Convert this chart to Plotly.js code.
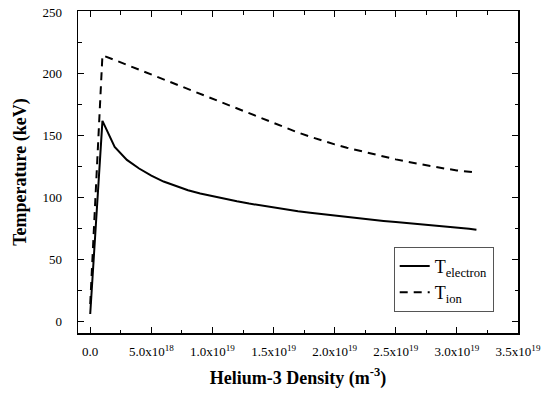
<!DOCTYPE html>
<html>
<head>
<meta charset="utf-8">
<script src="https://cdn.plot.ly/plotly-3.0.1.min.js"></script>
<style>html,body{margin:0;padding:0;background:#fff;}#chart{width:541px;height:393px;}</style>
</head>
<body>
<div id="chart"></div>
<script>
// Helium-3 density (m^-3)
const densityElectron = [0, 1e18, 2e18, 3e18, 4e18, 5e18, 6e18, 7e18, 8e18, 9e18, 1e19,
  1.1e19, 1.2e19, 1.3e19, 1.4e19, 1.5e19, 1.6e19, 1.7e19, 1.8e19, 1.9e19, 2e19,
  2.1e19, 2.2e19, 2.3e19, 2.4e19, 2.5e19, 2.6e19, 2.7e19, 2.8e19, 2.9e19, 3e19, 3.1e19, 3.16e19];
const tElectron = [6, 162, 141, 130.5, 123.5, 117.8, 113, 109.2, 106, 103.3, 101,
  98.9, 97, 95.2, 93.5, 91.9, 90.4, 89, 87.7, 86.5, 85.3,
  84.2, 83.1, 82.1, 81.1, 80.2, 79.4, 78.5, 77.6, 76.7, 75.7, 74.8, 74];
const densityIon = [0, 1e18, 2e18, 3e18, 4e18, 5e18, 6e18, 7e18, 8e18, 9e18, 1e19,
  1.1e19, 1.2e19, 1.3e19, 1.4e19, 1.5e19, 1.6e19, 1.7e19, 1.8e19, 1.9e19, 2e19,
  2.1e19, 2.2e19, 2.3e19, 2.4e19, 2.5e19, 2.6e19, 2.7e19, 2.8e19, 2.9e19, 3e19, 3.1e19, 3.16e19];
const tIon = [14, 215, 211.2, 207.3, 203.4, 199.5, 195.6, 191.7, 187.9, 184.1, 180.2,
  176.3, 172.3, 168.2, 164.1, 160.1, 156.2, 152.6, 149.2, 146, 143,
  140.3, 137.8, 135.4, 133.1, 130.9, 128.9, 127, 125.2, 123.5, 122, 120.8, 120.2];

const xTickVals = [0, 5e18, 1e19, 1.5e19, 2e19, 2.5e19, 3e19, 3.5e19];
const xTickText = ['0.0', '5.0x10<sup>18</sup>', '1.0x10<sup>19</sup>', '1.5x10<sup>19</sup>',
  '2.0x10<sup>19</sup>', '2.5x10<sup>19</sup>', '3.0x10<sup>19</sup>', '3.5x10<sup>19</sup>'];
const yTickVals = [0, 50, 100, 150, 200, 250];
const xMinorVals = [2.5e18, 7.5e18, 1.25e19, 1.75e19, 2.25e19, 2.75e19, 3.25e19];
const yMinorVals = [25, 75, 125, 175, 225];

const serif = 'Liberation Serif';

const traces = [
  {x: densityElectron, y: tElectron, type: 'scatter', mode: 'lines',
   name: 'T<sub>electron</sub>', line: {color: '#000', width: 2}},
  {x: densityIon, y: tIon, type: 'scatter', mode: 'lines',
   name: 'T<sub>ion</sub>', line: {color: '#000', width: 2, dash: '8px,6px'}}
];

const layout = {
  width: 541, height: 393,
  margin: {l: 78, r: 23, t: 11, b: 60},
  paper_bgcolor: '#fff', plot_bgcolor: '#fff',
  font: {family: serif, color: '#000', size: 13},
  showlegend: true,
  legend: {x: 0.7175, y: 0.268, xanchor: 'left', yanchor: 'top',
    bordercolor: '#555', borderwidth: 1, bgcolor: '#fff',
    font: {family: serif, size: 18, color: '#000'}, tracegroupgap: 0},
  xaxis: {
    range: [-1.0e18, 3.5e19], showgrid: false, zeroline: false,
    showline: true, linecolor: '#000', linewidth: 1.5, mirror: 'ticks',
    ticks: 'inside', ticklen: 6, tickwidth: 1, tickcolor: '#000',
    tickmode: 'array', tickvals: xTickVals, ticktext: xTickText,
    tickfont: {family: serif, size: 13}, ticklabelstandoff: 6,
    minor: {tickmode: 'array', tickvals: xMinorVals,
      ticks: 'inside', ticklen: 3.5, tickwidth: 1, tickcolor: '#000', showgrid: false},
    title: {text: '<b>Helium-3 Density (m<sup>-3</sup>)</b>', font: {family: serif, size: 18}, standoff: 13}
  },
  yaxis: {
    range: [-9.4, 250.8], showgrid: false, zeroline: false,
    showline: true, linecolor: '#000', linewidth: 1.5, mirror: 'ticks',
    ticks: 'inside', ticklen: 6, tickwidth: 1, tickcolor: '#000',
    tickmode: 'array', tickvals: yTickVals,
    tickfont: {family: serif, size: 13}, ticklabelstandoff: 12,
    minor: {tickmode: 'array', tickvals: yMinorVals,
      ticks: 'inside', ticklen: 3.5, tickwidth: 1, tickcolor: '#000', showgrid: false},
    title: {text: '<b>Temperature (keV)</b>', font: {family: serif, size: 18}, standoff: 11}
  }
};

Plotly.newPlot('chart', traces, layout, {staticPlot: true, displayModeBar: false});
</script>
</body>
</html>
